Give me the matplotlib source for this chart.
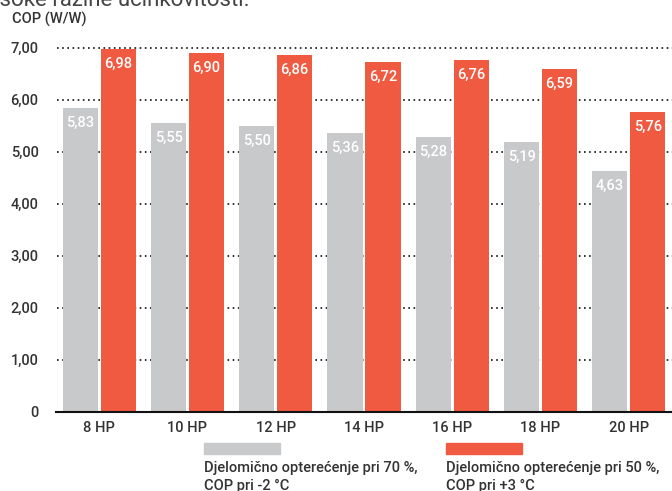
import numpy as np
import matplotlib
matplotlib.use("Agg")
import matplotlib.pyplot as plt
from matplotlib.patches import Rectangle

plt.rcParams['font.family'] = ['Roboto', 'DejaVu Sans']

# data
categories = ['8 HP', '10 HP', '12 HP', '14 HP', '16 HP', '18 HP', '20 HP']
cop_70 = [5.83, 5.55, 5.50, 5.36, 5.28, 5.19, 4.63]
cop_50 = [6.98, 6.90, 6.86, 6.72, 6.76, 6.59, 5.76]
y_ticks = [0, 1, 2, 3, 4, 5, 6, 7]
y_labels = ['0', '1,00', '2,00', '3,00', '4,00', '5,00', '6,00', '7,00']
legend_70 = ['Djelomično opterećenje pri 70 %,', 'COP pri -2 °C']
legend_50 = ['Djelomično opterećenje pri 50 %,', 'COP pri +3 °C']

gray = '#C8C9CB'
red = '#F05A40'
txt = '#333333'

fig = plt.figure(figsize=(6.72, 4.91), dpi=100)
ax = fig.add_axes([0.0833, 0.1619, 0.9167, 0.7625])

x = np.arange(len(categories))
w = 0.40
off = 0.215

ax.set_xlim(-0.49, 6.49)
ax.set_ylim(0, 7.2)

# dotted gridlines behind bars
for t in y_ticks[1:]:
    ax.plot([-0.48, 6.49], [t, t], color='#111111', lw=1.2,
            linestyle=(0, (1, 2.1)), zorder=1)

b1 = ax.bar(x - off, cop_70, width=w, color=gray, zorder=2)
b2 = ax.bar(x + off, cop_50, width=w, color=red, zorder=2)

for bars, vals in [(b1, cop_70), (b2, cop_50)]:
    for r, v in zip(bars, vals):
        ax.annotate(f'{v:.2f}'.replace('.', ','),
                    (r.get_x() + r.get_width() / 2, v),
                    xytext=(0, -10.8), textcoords='offset points',
                    ha='center', va='center', color='white',
                    fontsize=10.5, fontweight='medium', zorder=3)

for s in ['top', 'right', 'left']:
    ax.spines[s].set_visible(False)
ax.spines['bottom'].set_linewidth(1.5)
ax.spines['bottom'].set_color('#111111')

ax.set_xticks(x)
ax.set_xticklabels(categories, fontsize=10.5, color=txt, fontweight='medium')
ax.set_yticks(y_ticks)
ax.set_yticklabels(y_labels, fontsize=10.5, color=txt, fontweight='medium')
ax.tick_params(axis='both', length=0)
ax.tick_params(axis='y', pad=12.5)
ax.tick_params(axis='x', pad=6.5)

fig.text(0.018, 0.961, 'COP (W/W)', fontsize=10.5, color=txt,
         fontweight='medium', va='center')

# heading, cut off at the top edge as in the source
fig.text(0.372, 0.987, 'Visoke razine učinkovitosti.', fontsize=16,
         color='#444444', ha='right', va='baseline')

# manual legend
for xs, col, lines in [(0.3036, gray, legend_70), (0.6637, red, legend_50)]:
    fig.patches.append(Rectangle((xs, 0.0754), 0.113, 0.0224,
                                 transform=fig.transFigure, color=col))
    fig.text(xs, 0.0468, lines[0], fontsize=10.5, color=txt,
             fontweight='medium', va='center')
    fig.text(xs, 0.0112, lines[1], fontsize=10.5, color=txt,
             fontweight='medium', va='center')

fig.savefig('out.png', dpi=100)
